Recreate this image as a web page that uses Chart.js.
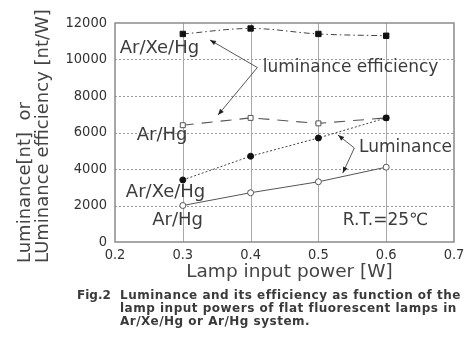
<!DOCTYPE html>
<html>
<head>
<meta charset="utf-8">
<script src="https://cdn.jsdelivr.net/npm/chart.js@4/dist/chart.umd.min.js"></script>
<style>
  html, body { margin:0; padding:0; background:#fff; }
  #wrap { position:relative; width:476px; height:341px; overflow:hidden; }
  #c { position:absolute; left:0; top:0; }
  #cap { position:absolute; left:77px; top:289px; font-family:"DejaVu Sans", sans-serif; font-weight:bold;
         font-size:12px; letter-spacing:0.5px; line-height:13px; color:#3a3a3a; display:flex; white-space:nowrap; }
  #cap .fig { width:43px; letter-spacing:0; }
</style>
</head>
<body>
<div id="wrap">
  <canvas id="c" width="476" height="341"></canvas>
  <div id="cap"><div class="fig">Fig.2</div><div>Luminance and its efficiency as function of the<br>lamp input powers of flat fluorescent lamps in<br>Ar/Xe/Hg or Ar/Hg system.</div></div>
</div>
<script>
// ---- data ----
const powers = [0.3, 0.4, 0.5, 0.6];
const effArXeHg = [11400, 11700, 11400, 11300];
const effArHg = [6400, 6800, 6500, 6800];
const lumArXeHg = [3400, 4700, 5700, 6800];
const lumArHg = [2000, 2700, 3300, 4100];
const xTickValues = [0.2, 0.3, 0.4, 0.5, 0.6, 0.7];
const yTickValues = [0, 2000, 4000, 6000, 8000, 10000, 12000];
const xTitle = 'Lamp input power [W]';
const yTitleLines = ['Luminance[nt]  or', 'LUminance efficiency [nt/W]'];

// annotations in data units
const labels = [
  { text: 'Ar/Xe/Hg', x: 0.207, y: 10630 },
  { text: 'luminance efficiency', x: 0.418, y: 9560, size: 17 },
  { text: 'Ar/Hg', x: 0.232, y: 5860 },
  { text: 'Luminance', x: 0.560, y: 5150, size: 17 },
  { text: 'Ar/Xe/Hg', x: 0.216, y: 2740 },
  { text: 'Ar/Hg', x: 0.255, y: 1200 },
  { text: 'R.T.=25\u2103', x: 0.536, y: 1150, size: 17 }
];
const arrows = [
  { from: [0.410, 9560], to: [0.340, 11070] },
  { from: [0.410, 9560], to: [0.352, 6960] },
  { from: [0.553, 5150], to: [0.529, 5860] },
  { from: [0.553, 5150], to: [0.536, 3780] }
];

const toXY = (d) => d.map((v, i) => ({ x: powers[i], y: v }));

const tickFont = { family: '"DejaVu Sans Condensed", "DejaVu Sans", sans-serif', size: 14.5 };

const deco = {
  id: 'deco',
  beforeDatasetsDraw(chart) {
    const { ctx, chartArea: a, scales: { x, y } } = chart;
    ctx.save();
    ctx.lineWidth = 1;
    ctx.strokeStyle = '#9a9a9a';
    ctx.setLineDash([2, 2]);
    yTickValues.slice(1, -1).forEach(v => {
      const py = Math.round(y.getPixelForValue(v)) + 0.5;
      ctx.beginPath(); ctx.moveTo(a.left, py); ctx.lineTo(a.right, py); ctx.stroke();
    });
    ctx.setLineDash([]);
    ctx.strokeStyle = '#a8a8a8';
    xTickValues.slice(1, -1).forEach(v => {
      const px = Math.round(x.getPixelForValue(v)) + 0.5;
      ctx.beginPath(); ctx.moveTo(px, a.top); ctx.lineTo(px, a.bottom); ctx.stroke();
    });
    ctx.strokeStyle = '#8a8a8a';
    ctx.lineWidth = 1.5;
    ctx.strokeRect(a.left, a.top, a.right - a.left, a.bottom - a.top);
    ctx.restore();
  },
  afterDraw(chart) {
    const { ctx, chartArea: a, scales: { x, y } } = chart;
    ctx.save();
    ctx.fillStyle = '#3c3c3c';
    ctx.textBaseline = 'middle';
    ctx.textAlign = 'left';
    labels.forEach(l => {
      ctx.font = (l.size || 18) + 'px "DejaVu Sans", sans-serif';
      ctx.fillText(l.text, x.getPixelForValue(l.x), y.getPixelForValue(l.y));
    });
    ctx.strokeStyle = '#444';
    ctx.fillStyle = '#222';
    ctx.lineWidth = 0.9;
    arrows.forEach(ar => {
      const x1 = x.getPixelForValue(ar.from[0]), y1 = y.getPixelForValue(ar.from[1]);
      const x2 = x.getPixelForValue(ar.to[0]), y2 = y.getPixelForValue(ar.to[1]);
      ctx.beginPath(); ctx.moveTo(x1, y1); ctx.lineTo(x2, y2); ctx.stroke();
      const ang = Math.atan2(y2 - y1, x2 - x1);
      const L = 6, W = 2.4;
      ctx.beginPath();
      ctx.moveTo(x2, y2);
      ctx.lineTo(x2 - L * Math.cos(ang) + W * Math.sin(ang), y2 - L * Math.sin(ang) - W * Math.cos(ang));
      ctx.lineTo(x2 - L * Math.cos(ang) - W * Math.sin(ang), y2 - L * Math.sin(ang) + W * Math.cos(ang));
      ctx.closePath(); ctx.fill();
    });
    ctx.fillStyle = '#444';
    ctx.font = '18.5px "DejaVu Sans", sans-serif';
    ctx.textAlign = 'center';
    ctx.fillText(xTitle, (a.left + a.right) / 2 + 5, 272);
    ctx.font = '18px "DejaVu Sans", sans-serif';
    ctx.textAlign = 'left';
    ctx.translate(25, 263);
    ctx.rotate(-Math.PI / 2);
    ctx.fillText(yTitleLines[0], 0, 0);
    ctx.fillText(yTitleLines[1], 0, 18);
    ctx.restore();
  }
};

new Chart(document.getElementById('c'), {
  type: 'line',
  data: {
    datasets: [
      { label: 'Luminance Ar/Xe/Hg', data: toXY(lumArXeHg), borderColor: '#444', borderWidth: 1,
        borderDash: [2, 2], pointStyle: 'circle', pointRadius: 3, backgroundColor: '#111',
        pointBackgroundColor: '#111', pointBorderColor: '#111', pointBorderWidth: 1 },
      { label: 'Efficiency Ar/Xe/Hg', data: toXY(effArXeHg), borderColor: '#444', borderWidth: 1,
        borderDash: [6, 3, 1.5, 3], tension: 0.35, pointStyle: 'rect', pointRadius: 3.8,
        pointBackgroundColor: '#111', pointBorderColor: '#111', pointBorderWidth: 1 },
      { label: 'Luminance Ar/Hg', data: toXY(lumArHg), borderColor: '#555', borderWidth: 1,
        pointStyle: 'circle', pointRadius: 3, pointBackgroundColor: '#fff', pointBorderColor: '#555',
        pointBorderWidth: 1 },
      { label: 'Efficiency Ar/Hg', data: toXY(effArHg), borderColor: '#555', borderWidth: 1.1,
        borderDash: [11, 8], pointStyle: 'rect', pointRadius: 3.5, pointBackgroundColor: '#fff',
        pointBorderColor: '#555', pointBorderWidth: 1 }
    ]
  },
  options: {
    responsive: false,
    animation: false,
    devicePixelRatio: 1,
    layout: { padding: { left: 0, top: 23, right: 22, bottom: 59 } },
    plugins: { legend: { display: false }, tooltip: { enabled: false } },
    scales: {
      x: {
        type: 'linear', min: 0.2, max: 0.7,
        afterBuildTicks: s => { s.ticks = xTickValues.map(v => ({ value: v })); },
        afterFit: s => { s.height = 40; },
        grid: { display: false, drawTicks: false }, border: { display: false },
        ticks: { font: tickFont, color: '#333', padding: 5, maxRotation: 0, autoSkip: false,
                 callback: v => Number(v).toFixed(1) }
      },
      y: {
        type: 'linear', min: 0, max: 12000,
        afterBuildTicks: s => { s.ticks = yTickValues.map(v => ({ value: v })); },
        afterFit: s => { s.width = 115; },
        grid: { display: false, drawTicks: false }, border: { display: false },
        ticks: { font: tickFont, color: '#333', padding: 8, autoSkip: false, callback: v => String(v) }
      }
    }
  },
  plugins: [deco]
});
</script>
</body>
</html>
